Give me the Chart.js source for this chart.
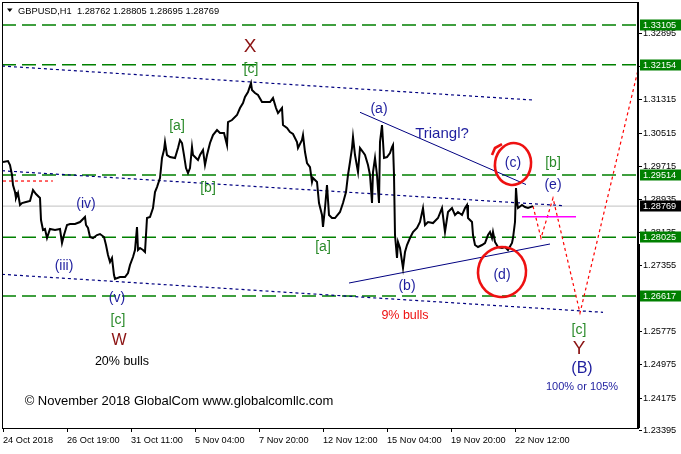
<!DOCTYPE html>
<html><head><meta charset="utf-8">
<script src="https://cdn.jsdelivr.net/npm/chart.js@4"></script>
<style>html,body{margin:0;padding:0;background:#fff;overflow:hidden}</style>
</head><body>
<canvas id="c" width="681" height="454"></canvas>
<script>
// ---------- DATA ----------
const xTickBars = [0, 64, 128, 192, 256, 320, 384, 448, 512];
const xTickLabels = ['24 Oct 2018','26 Oct 19:00','31 Oct 11:00','5 Nov 04:00','7 Nov 20:00','12 Nov 12:00','15 Nov 04:00','19 Nov 20:00','22 Nov 12:00'];
const yTickValues = [1.32895,1.32115,1.31315,1.30515,1.29715,1.28935,1.28135,1.27355,1.26555,1.25775,1.24975,1.24175,1.23395];
const levelValues = [1.33105,1.32154,1.29514,1.28025,1.26617];
const lastPrice = 1.28769;
const titleText = 'GBPUSD,H1  1.28762 1.28805 1.28695 1.28769';

const priceBars = [0,5,7,9,10,12,13,15,17,19,23,27,30,33,37,38,40,42,44,47,52,57,59,61,64,67,72,77,82,83,85,87,90,94,97,101,103,105,107,109,111,112,117,122,125,127,130,132,134,135,137,140,142,144,147,150,152,154,157,158,159,161,162,164,167,172,175,177,179,181,183,185,187,189,190,193,195,197,200,202,204,207,210,214,217,221,224,225,229,234,237,240,242,245,248,249,252,255,259,263,267,270,273,275,279,280,284,287,290,294,295,299,300,302,304,307,309,310,314,316,319,320,322,324,326,329,332,337,340,343,345,347,349,350,352,355,357,360,362,365,367,369,370,372,374,376,377,379,381,384,387,389,390,391,392,394,395,397,400,402,404,407,410,414,417,420,422,425,430,435,439,442,445,449,452,455,459,462,464,465,469,470,472,475,479,482,485,487,489,490,492,495,499,502,505,509,510,512,513,514,515,519,522,525,530];
const priceValues = [1.29825,1.29849,1.29753,1.29514,1.29274,1.29107,1.28963,1.29083,1.28795,1.28843,1.28867,1.28891,1.29154,1.29059,1.28963,1.28436,1.28197,1.28221,1.28005,1.28221,1.28197,1.28221,1.27886,1.28077,1.28317,1.28340,1.28340,1.28388,1.28508,1.28317,1.28245,1.28029,1.28005,1.28077,1.28101,1.28029,1.27838,1.27598,1.27431,1.27527,1.27120,1.27024,1.27072,1.27072,1.27167,1.27359,1.27550,1.27718,1.28269,1.27718,1.27766,1.27718,1.27670,1.28484,1.28508,1.28724,1.29107,1.29226,1.29442,1.29681,1.29921,1.30112,1.30304,1.29992,1.29944,1.29921,1.30160,1.30351,1.30280,1.29992,1.29681,1.29561,1.29681,1.30184,1.29992,1.29921,1.29873,1.29992,1.30112,1.29753,1.29992,1.30280,1.30471,1.30591,1.30519,1.30519,1.30232,1.30782,1.30830,1.30950,1.31118,1.31237,1.31381,1.31501,1.31716,1.31548,1.31477,1.31429,1.31261,1.31261,1.31261,1.31357,1.31118,1.30998,1.31118,1.30711,1.30639,1.30543,1.30495,1.30304,1.30160,1.30351,1.30471,1.30064,1.29801,1.29705,1.29346,1.29442,1.29346,1.28843,1.28556,1.28269,1.28724,1.29274,1.28556,1.28484,1.28484,1.28628,1.28843,1.29107,1.29514,1.29825,1.30160,1.30423,1.29992,1.29585,1.30160,1.30064,1.29992,1.29753,1.29514,1.28843,1.29585,1.29921,1.29514,1.28843,1.30304,1.30711,1.29921,1.29944,1.30040,1.30184,1.30232,1.29514,1.28077,1.27527,1.27910,1.27766,1.27287,1.27670,1.27838,1.28005,1.28149,1.28245,1.28388,1.28724,1.28317,1.28388,1.28364,1.28484,1.28724,1.28149,1.28628,1.28724,1.28556,1.28628,1.28556,1.28724,1.28795,1.28484,1.28388,1.28077,1.27838,1.27790,1.27838,1.27886,1.28077,1.28149,1.28005,1.28149,1.27910,1.27790,1.27766,1.27790,1.27718,1.27886,1.28005,1.28388,1.29202,1.28867,1.28724,1.28795,1.28747,1.28724,1.28769];

const upperChannelBars = [-1, 530];
const upperChannelPrices = [1.32123, 1.31309];
const midChannelBars = [-1, 559];
const midChannelPrices = [1.29616, 1.28783];
const lowerChannelBars = [-1, 600];
const lowerChannelPrices = [1.27136, 1.26227];
const triUpperBars = [357, 523];
const triUpperPrices = [1.31015, 1.29286];
const triLowerBars = [346, 547];
const triLowerPrices = [1.26928, 1.27862];
const magentaBars = [519, 573];
const magentaPrices = [1.28515, 1.28515];
const redShortBars = [0, 50];
const redShortPrices = [1.29370, 1.29370];
const forecastBars = [530, 538, 550, 577, 635];
const forecastPrices = [1.28769, 1.28005, 1.28963, 1.26210, 1.32027];

const labelTexts = ['X','[c]','[a]','[b]','(iv)','(iii)','(v)','[c]','W','20% bulls','(a)','Triangl?','(c)','[b]','(e)','[a]','(b)','(d)','9% bulls','[c]','Y','(B)','100% or 105%','© November 2018 GlobalCom www.globalcomllc.com'];
const labelBars = [247,248,174,205,83,61,114,115,116,119,376,439,510,550,550,320,404,499,402,576,576,579,579,176];
const labelPrices = [1.32578,1.32044,1.30687,1.29195,1.28819,1.27342,1.26569,1.26042,1.25547,1.25044,1.31086,1.30495,1.29794,1.29794,1.29274,1.27797,1.26856,1.27120,1.26138,1.25803,1.25365,1.24886,1.24431,1.24086];
const labelKinds = ['big','green','green','green','blue','blue','blue','green','bigW','black','blue','tri','blue','green','blue','green','blue','blue','red','green','big','blueBig','blueSmall','copy'];

const circleBars = [510, 499];
const circlePrices = [1.29777, 1.27191];

// ---------- STYLE ----------
const FONT = '"Liberation Sans", Arial, sans-serif';
const kindStyle = {
  big:{c:'#8b1212',s:19}, bigW:{c:'#8b1212',s:16}, green:{c:'#2a8a2a',s:14},
  blue:{c:'#1e1e9e',s:14}, blueBig:{c:'#1e1e9e',s:16}, blueSmall:{c:'#1e1e9e',s:11},
  tri:{c:'#1e1e9e',s:15}, black:{c:'#000',s:12.5}, red:{c:'#ee1111',s:12.5}, copy:{c:'#000',s:13}
};
const circleRadii = [[18,21],[24,25]];

const pts = (b, v) => b.map((x, i) => ({x, y: v[i]}));
function ds(data, color, width, dash) {
  return {data, borderColor: color, borderWidth: width, borderDash: dash || [], pointRadius: 0,
          tension: 0, fill: false, showLine: true, borderCapStyle: 'butt'};
}
const datasets = [
  ds(pts(priceBars, priceValues), '#000', 2),
  ds(pts(magentaBars, magentaPrices), '#ff00ff', 1.5),
  ds(pts(forecastBars, forecastPrices), '#ff0000', 1.2, [3,3]),
  ds(pts(triUpperBars, triUpperPrices), '#000080', 1),
  ds(pts(triLowerBars, triLowerPrices), '#000080', 1),
  ds(pts(redShortBars, redShortPrices), '#ff0000', 1.2, [3,3]),
  ds(pts(upperChannelBars, upperChannelPrices), '#000080', 1.2, [3,3]),
  ds(pts(midChannelBars, midChannelPrices), '#000080', 1.2, [3,3]),
  ds(pts(lowerChannelBars, lowerChannelPrices), '#000080', 1.2, [3,3]),
];
levelValues.forEach(v => datasets.push(ds(pts([-1, 635], [v, v]), '#008000', 1.5, [14,6])));
datasets.push(ds(pts([-1, 635], [lastPrice, lastPrice]), '#c0c0c0', 1));

const noPad = s => { s.paddingTop = 0; s.paddingBottom = 0; s.paddingLeft = 0; s.paddingRight = 0; };

const overlay = {
  id: 'overlay',
  afterDraw(chart) {
    const ctx = chart.ctx, a = chart.chartArea, xs = chart.scales.x, ys = chart.scales.y;
    ctx.save();
    // frame
    ctx.strokeStyle = '#000'; ctx.lineWidth = 1;
    ctx.strokeRect(a.left + 0.5, a.top + 0.5, a.right - a.left - 1, a.bottom - a.top);
    // circles
    ctx.strokeStyle = '#ee1111'; ctx.lineWidth = 2.6;
    circleBars.forEach((b, i) => {
      const cx = xs.getPixelForValue(b), cy = ys.getPixelForValue(circlePrices[i]);
      const [rx, ry] = circleRadii[i];
      ctx.beginPath(); ctx.ellipse(cx, cy, rx, ry, 0.15, 0, Math.PI * 2); ctx.stroke();
      if (i === 0) {
        ctx.beginPath(); ctx.moveTo(cx - 21, cy - 9); ctx.lineTo(cx - 18, cy - 16); ctx.lineTo(cx - 11, cy - 20); ctx.stroke();
      }
    });
    // labels
    ctx.textAlign = 'center'; ctx.textBaseline = 'middle';
    labelTexts.forEach((t, i) => {
      const st = kindStyle[labelKinds[i]];
      ctx.fillStyle = st.c; ctx.font = st.s + 'px ' + FONT;
      ctx.fillText(t, xs.getPixelForValue(labelBars[i]), ys.getPixelForValue(labelPrices[i]));
    });
    // title
    ctx.fillStyle = '#000';
    ctx.beginPath(); ctx.moveTo(7, 8.5); ctx.lineTo(12.5, 8.5); ctx.lineTo(9.75, 12); ctx.closePath(); ctx.fill();
    ctx.textAlign = 'left'; ctx.font = '9.3px ' + FONT;
    ctx.fillText(titleText, 18, 11);
    // right-axis level boxes
    ctx.font = '9.2px ' + FONT;
    const boxes = levelValues.map(v => [v, '#008000']).concat([[lastPrice, '#000']]);
    boxes.forEach(([v, col]) => {
      const y = Math.round(ys.getPixelForValue(v));
      ctx.fillStyle = col; ctx.fillRect(a.right + 2, y - 5.5, 681 - a.right - 2, 11);
      ctx.fillStyle = '#fff'; ctx.fillText(v.toFixed(5), a.right + 5, y + 0.5);
    });
    // scroll marker
    ctx.fillStyle = '#000';
    ctx.fillRect(a.right - 1, 244, 3, a.bottom - 244);
    ctx.restore();
  }
};

new Chart(document.getElementById('c'), {
  type: 'line',
  data: {datasets},
  options: {
    responsive: false, animation: false, devicePixelRatio: 1,
    layout: {padding: {left: 2, top: 2, right: 0, bottom: 0}},
    plugins: {legend: {display: false}, tooltip: {enabled: false}},
    scales: {
      x: {
        type: 'linear', min: -1, max: 635,
        afterBuildTicks: s => { s.ticks = xTickBars.map(v => ({value: v})); },
        afterFit: s => { s.height = 26; noPad(s); },
        ticks: {callback: (v, i) => xTickLabels[i], align: 'start', maxRotation: 0, minRotation: 0, autoSkip: false,
                padding: 3, color: '#000', font: {family: FONT, size: 9.2}},
        grid: {drawOnChartArea: false, drawTicks: true, tickLength: 4, tickColor: '#000'},
        border: {display: true, color: '#000', width: 1}
      },
      y: {
        type: 'linear', position: 'right', min: 1.23457, max: 1.33656,
        afterBuildTicks: s => { s.ticks = yTickValues.map(v => ({value: v})); },
        afterFit: s => { s.width = 43; noPad(s); },
        ticks: {callback: v => v.toFixed(5), autoSkip: false, padding: 1, color: '#000', font: {family: FONT, size: 9.2}},
        grid: {drawOnChartArea: false, drawTicks: true, tickLength: 4, tickColor: '#000'},
        border: {display: true, color: '#000', width: 1}
      }
    }
  },
  plugins: [overlay]
});
</script>
</body></html>
